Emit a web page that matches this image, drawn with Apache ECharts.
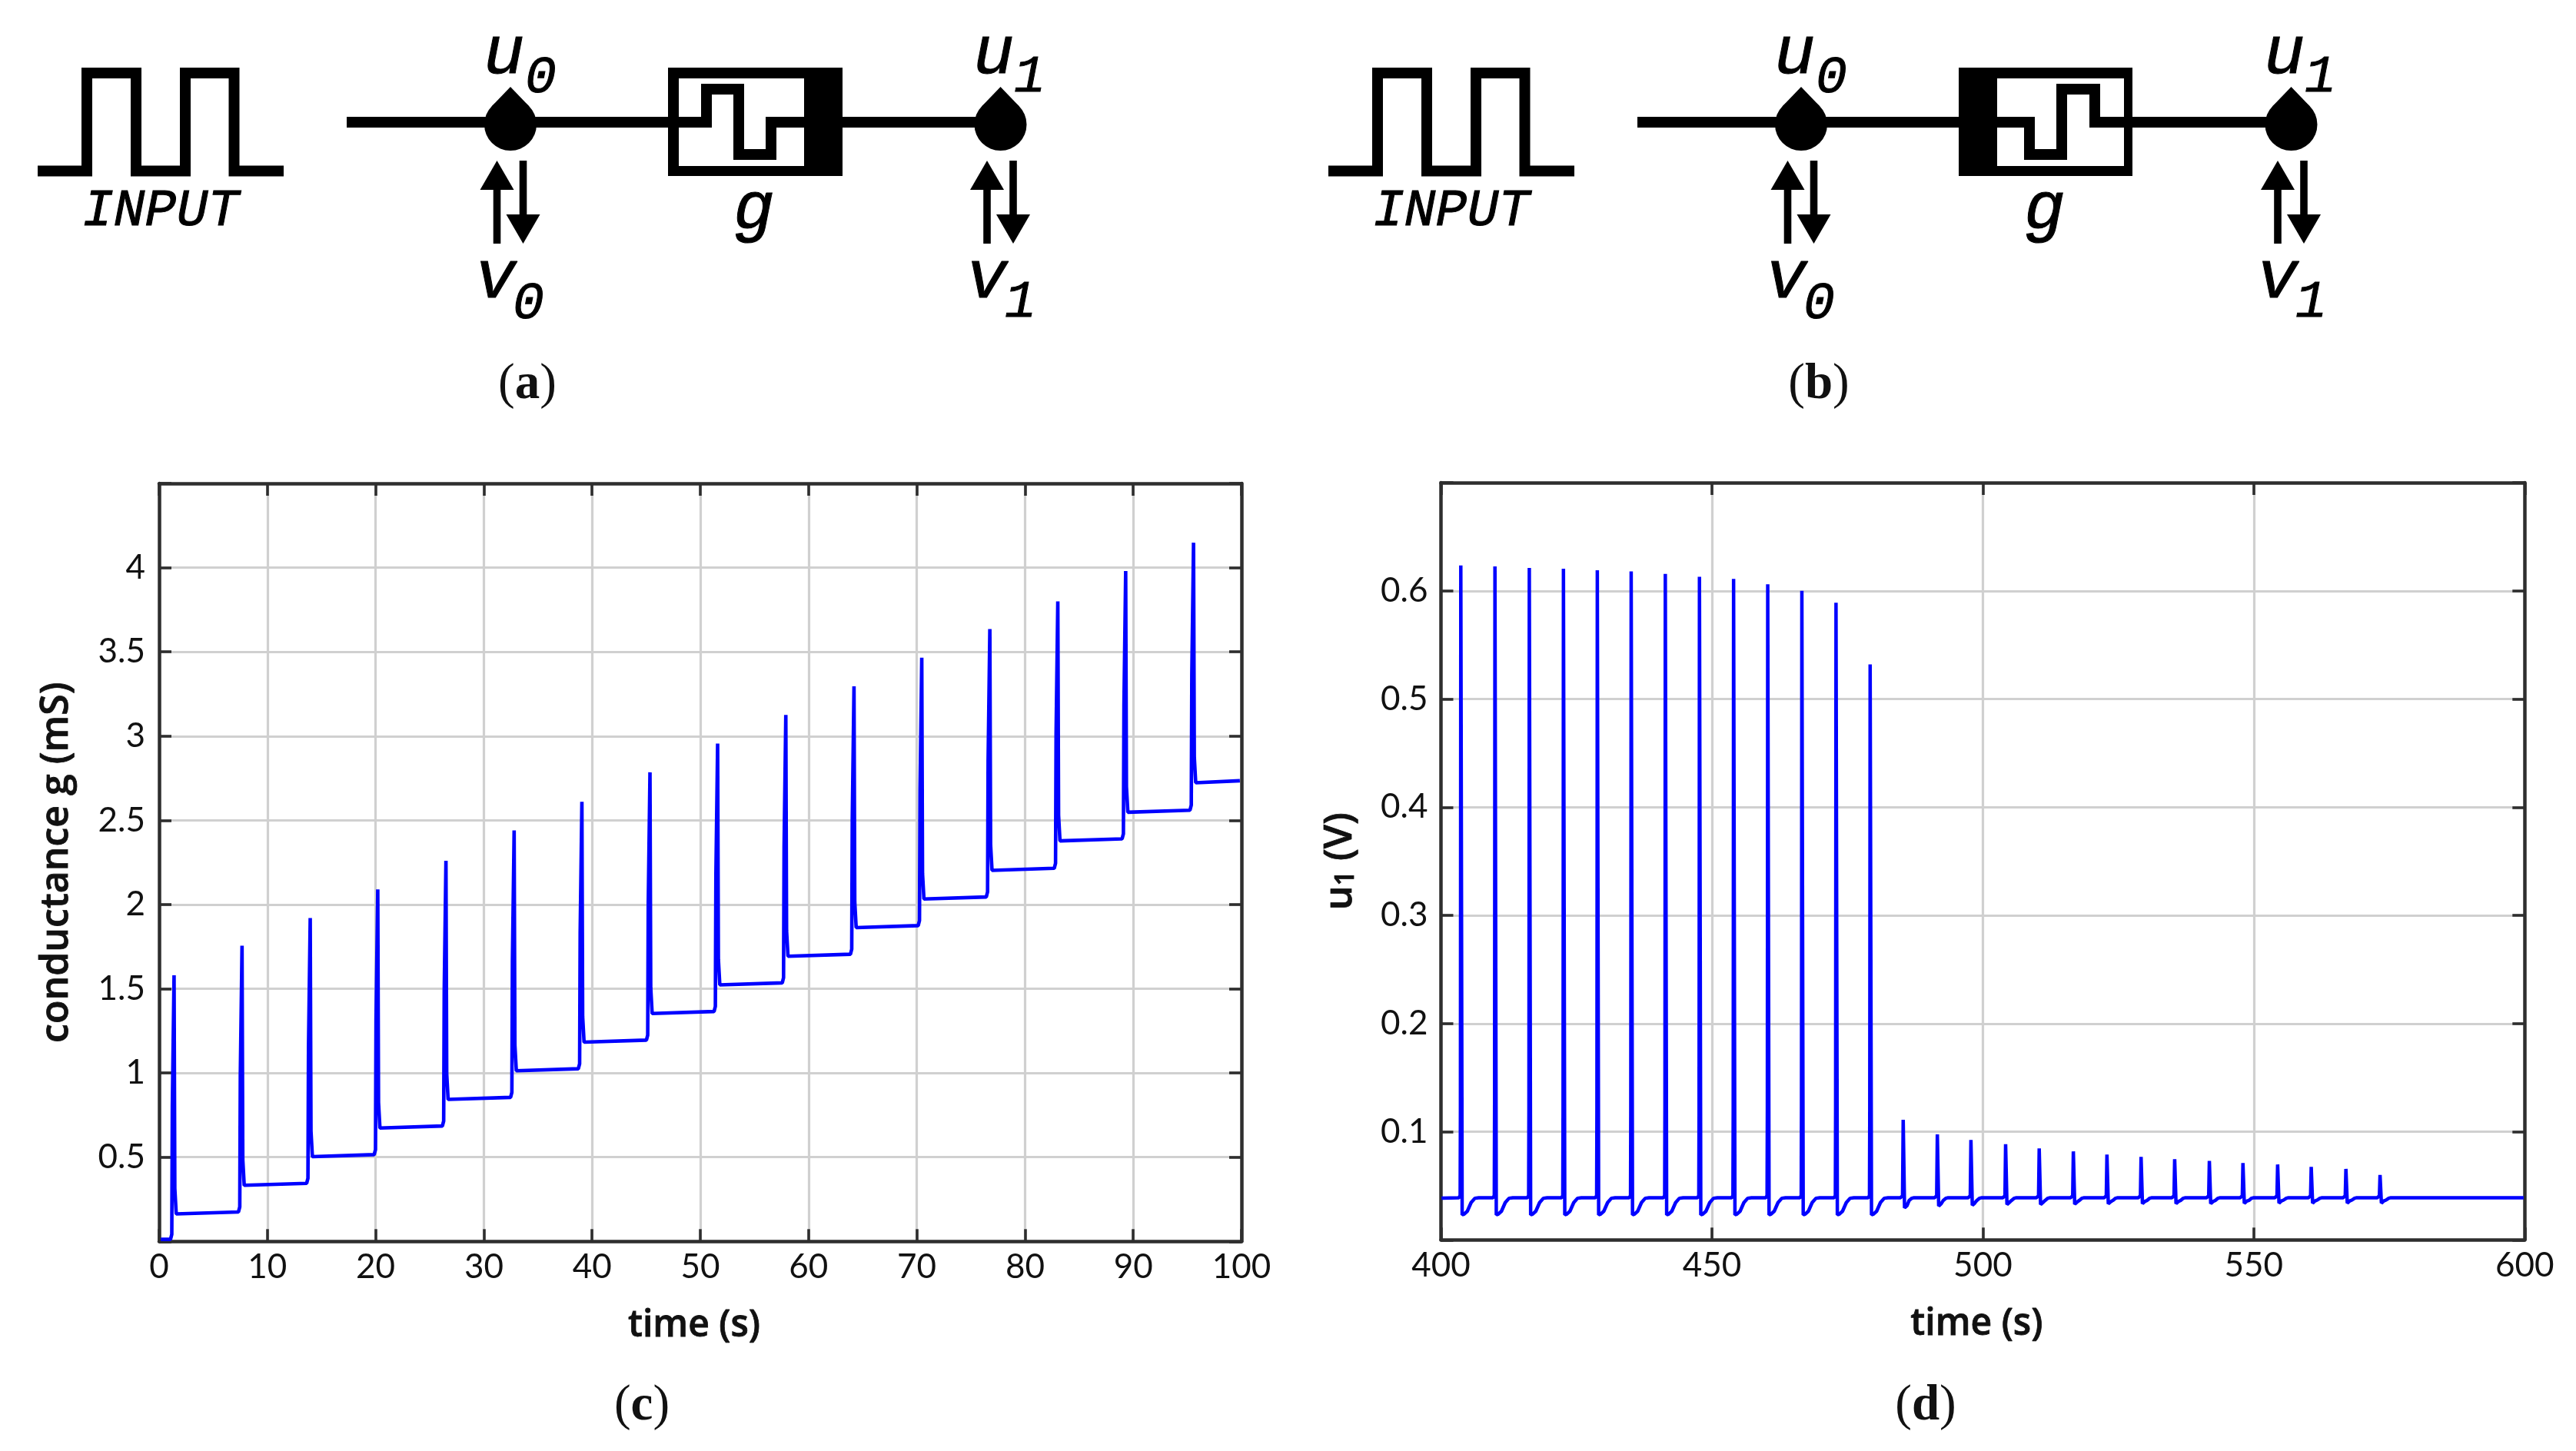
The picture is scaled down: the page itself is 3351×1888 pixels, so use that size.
<!DOCTYPE html>
<html><head><meta charset="utf-8">
<style>html,body{margin:0;padding:0;background:#fff}#c{width:3351px;height:1888px}</style>
<script src="https://cdn.jsdelivr.net/npm/echarts@6/dist/echarts.min.js"></script>
</head><body><div id="c"></div>
<script>
// (c) conductance g (mS) versus time (s): [time, value]
const conductanceEarly = [
[0.15,0.012],[1.05,0.012],[1.17,0.042],[1.22,0.80],[1.38,1.58],[1.45,0.315],[1.58,0.163],
[7.33,0.175],[7.45,0.205],[7.50,0.98],[7.66,1.756],[7.73,0.485],[7.86,0.333],
[13.63,0.345],[13.75,0.375],[13.80,1.15],[13.96,1.92],[14.03,0.655],[14.16,0.503],
[19.87,0.515],[19.99,0.545],[20.04,1.32],[20.20,2.09],[20.27,0.825],[20.40,0.673],
[26.17,0.685],[26.29,0.715],[26.34,1.49],[26.50,2.26],[26.57,0.995],[26.70,0.843],
[32.47,0.855],[32.59,0.885],[32.64,1.66],[32.80,2.44],[32.87,1.165],[33.00,1.013],
[38.73,1.025],[38.85,1.055],[38.90,1.83],[39.06,2.61],[39.13,1.335],[39.26,1.183],
[45.02,1.195],[45.14,1.225],[45.19,2.00],[45.35,2.785],[45.42,1.505],[45.55,1.353]
];
const conductanceLate = [
[51.27,1.365],[51.39,1.395],[51.44,2.17],[51.60,2.955],[51.67,1.675],[51.80,1.523],
[57.57,1.535],[57.69,1.565],[57.74,2.34],[57.90,3.125],[57.97,1.845],[58.10,1.693],
[63.87,1.705],[63.99,1.735],[64.04,2.51],[64.20,3.295],[64.27,2.015],[64.40,1.863],
[70.13,1.875],[70.25,1.905],[70.30,2.68],[70.46,3.465],[70.53,2.185],[70.66,2.033],
[76.42,2.045],[76.54,2.075],[76.59,2.85],[76.75,3.635],[76.82,2.355],[76.95,2.203],
[82.70,2.215],[82.82,2.245],[82.87,3.01],[83.03,3.80],[83.10,2.53],[83.23,2.378],
[88.97,2.39],[89.09,2.42],[89.14,3.18],[89.30,3.98],[89.37,2.70],[89.50,2.548],
[95.24,2.56],[95.36,2.59],[95.41,3.36],[95.57,4.148],[95.64,2.875],[95.77,2.723],
[99.85,2.735]
];
// (d) u1 (V) versus time (s): pulses that reach the high level
const voltageHigh = [
[400.1,0.0385],
[403.31,0.039],[403.54,0.041],[403.59,0.12],[403.66,0.6235],[403.91,0.0232],[404.26,0.0238],[404.86,0.0265],[405.56,0.0345],[406.26,0.0385],[406.96,0.039],
[409.61,0.039],[409.84,0.041],[409.89,0.12],[409.96,0.6225],[410.21,0.0232],[410.56,0.0238],[411.16,0.0265],[411.86,0.0345],[412.56,0.0385],[413.26,0.039],
[415.95,0.039],[416.18,0.041],[416.23,0.12],[416.30,0.6211],[416.55,0.0232],[416.90,0.0238],[417.50,0.0265],[418.20,0.0345],[418.90,0.0385],[419.60,0.039],
[422.25,0.039],[422.48,0.041],[422.53,0.12],[422.60,0.6204],[422.85,0.0232],[423.20,0.0238],[423.80,0.0265],[424.50,0.0345],[425.20,0.0385],[425.90,0.039],
[428.50,0.039],[428.73,0.041],[428.78,0.12],[428.85,0.619],[429.10,0.0232],[429.45,0.0238],[430.05,0.0265],[430.75,0.0345],[431.45,0.0385],[432.15,0.039],
[434.75,0.039],[434.98,0.041],[435.03,0.12],[435.10,0.618],[435.35,0.0232],[435.70,0.0238],[436.30,0.0265],[437.00,0.0345],[437.70,0.0385],[438.40,0.039],
[441.05,0.039],[441.28,0.041],[441.33,0.12],[441.40,0.6156],[441.65,0.0232],[442.00,0.0238],[442.60,0.0265],[443.30,0.0345],[444.00,0.0385],[444.70,0.039],
[447.35,0.039],[447.58,0.041],[447.63,0.12],[447.70,0.613],[447.95,0.0232],[448.30,0.0238],[448.90,0.0265],[449.60,0.0345],[450.30,0.0385],[451.00,0.039],
[453.65,0.039],[453.88,0.041],[453.93,0.12],[454.00,0.611],[454.25,0.0232],[454.60,0.0238],[455.20,0.0265],[455.90,0.0345],[456.60,0.0385],[457.30,0.039],
[459.95,0.039],[460.18,0.041],[460.23,0.12],[460.30,0.606],[460.55,0.0232],[460.90,0.0238],[461.50,0.0265],[462.20,0.0345],[462.90,0.0385],[463.60,0.039],
[466.25,0.039],[466.48,0.041],[466.53,0.12],[466.60,0.600],[466.85,0.0232],[467.20,0.0238],[467.80,0.0265],[468.50,0.0345],[469.20,0.0385],[469.90,0.039],
[472.55,0.039],[472.78,0.041],[472.83,0.12],[472.90,0.589],[473.15,0.0232],[473.50,0.0238],[474.10,0.0265],[474.80,0.0345],[475.50,0.0385],[476.20,0.039],
[478.85,0.039],[479.08,0.041],[479.13,0.12],[479.20,0.532],[479.45,0.0232],[479.80,0.0238],[480.40,0.0265],[481.10,0.0345],[481.80,0.0385],[482.50,0.039]
];
// (d) pulses that stay low
const voltageLow = [
[484.8,0.039],[485.18,0.0408],[485.3,0.111],[485.55,0.0296],[486.0,0.0316],[486.4,0.0365],[486.9,0.0385],[487.3,0.039],
[491.1,0.039],[491.48,0.0408],[491.6,0.0976],[491.85,0.0313],[492.3,0.0333],[492.7,0.0365],[493.2,0.0385],[493.6,0.039],
[497.3,0.039],[497.68,0.0408],[497.8,0.0924],[498.05,0.032],[498.5,0.034],[498.9,0.0365],[499.4,0.0385],[499.8,0.039],
[503.7,0.039],[504.08,0.0408],[504.2,0.0884],[504.45,0.0327],[504.9,0.0347],[505.3,0.0365],[505.8,0.0385],[506.2,0.039],
[509.9,0.039],[510.28,0.0408],[510.4,0.0846],[510.65,0.0327],[511.1,0.0347],[511.5,0.0365],[512.0,0.0385],[512.4,0.039],
[516.2,0.039],[516.58,0.0408],[516.7,0.0818],[516.95,0.033],[517.4,0.035],[517.8,0.0365],[518.3,0.0385],[518.7,0.039],
[522.4,0.039],[522.78,0.0408],[522.9,0.0789],[523.15,0.0333],[523.6,0.0353],[524.0,0.0365],[524.5,0.0385],[524.9,0.039],
[528.7,0.039],[529.08,0.0408],[529.2,0.0768],[529.45,0.0335],[529.9,0.0355],[530.3,0.0365],[530.8,0.0385],[531.2,0.039],
[534.9,0.039],[535.28,0.0408],[535.4,0.0746],[535.65,0.0335],[536.1,0.0355],[536.5,0.0365],[537.0,0.0385],[537.4,0.039],
[541.3,0.039],[541.68,0.0408],[541.8,0.073],[542.05,0.0335],[542.5,0.0355],[542.9,0.0365],[543.4,0.0385],[543.8,0.039],
[547.5,0.039],[547.88,0.0408],[548.0,0.0711],[548.25,0.0338],[548.7,0.0358],[549.1,0.0365],[549.6,0.0385],[550.0,0.039],
[553.9,0.039],[554.28,0.0408],[554.4,0.0697],[554.65,0.034],[555.1,0.036],[555.5,0.0368],[556.0,0.0385],[556.4,0.039],
[560.1,0.039],[560.48,0.0408],[560.6,0.0675],[560.85,0.034],[561.3,0.036],[561.7,0.0368],[562.2,0.0385],[562.6,0.039],
[566.5,0.039],[566.88,0.0408],[567.0,0.0656],[567.25,0.034],[567.7,0.036],[568.1,0.0368],[568.6,0.0385],[569.0,0.039],
[572.8,0.039],[573.18,0.0408],[573.3,0.060],[573.55,0.034],[574.0,0.036],[574.4,0.0368],[574.9,0.0385],[575.3,0.039]
];
const voltageTail = [
[579.0,0.039],[579.2,0.0402],[579.4,0.039],[585.5,0.039],[585.7,0.0402],[585.9,0.039],
[598.0,0.039],[598.2,0.0402],[598.4,0.039],[599.8,0.039]
];
// axis ranges and text
const conductanceTicks = {min:0,max:4.5,step:0.5};
const conductanceTime = {min:0,max:100,step:10};
const voltageTicks = {min:0,max:0.7,step:0.1};
const voltageTime = {min:400,max:600,step:50};
const captions = ['a','b','c','d'];
const timeName = 'time (s)';
const conductanceName = 'conductance g (mS)';

const spine = '#2e2e2e', gridC = '#d0d0d0', blue = '#0000ff';
const labelFont = 'Lato';
const nameFont = '"Open Sans"';

function hideEnds(r){
  return v => (Math.abs(v-r.min)<1e-9 || Math.abs(v-r.max)<1e-9) ? '' : String(+v.toFixed(2));
}
const common = g => ({
  gridIndex:g, type:'value',
  axisLine:{show:true,onZero:false,lineStyle:{color:spine,width:4.5}},
  axisTick:{show:true,inside:true,length:16,lineStyle:{color:spine,width:3.6}}
});
function xMain(g,r){return Object.assign(common(g),{
  min:r.min,max:r.max,interval:r.step,position:'bottom',
  splitLine:{show:true,lineStyle:{color:gridC,width:3.2}},
  axisLabel:{show:true,margin:12,color:'#111',fontFamily:labelFont,fontSize:44,hideOverlap:false,showMinLabel:true,showMaxLabel:true},
  name:timeName,nameLocation:'middle',nameGap:86,
  nameTextStyle:{color:'#111',fontFamily:nameFont,fontWeight:600,fontSize:48,padding:[0,16,0,0],textBorderColor:'#111',textBorderWidth:0.8}
});}
function xTop(g,r){return Object.assign(common(g),{
  min:r.min,max:r.max,interval:r.step,position:'top',splitLine:{show:false},axisLabel:{show:false}
});}
function yMain(g,r,name,gap,rich,margin,size){return Object.assign(common(g),{
  min:r.min,max:r.max,interval:r.step,position:'left',
  splitLine:{show:true,lineStyle:{color:gridC,width:3.2}},
  axisLabel:{show:true,margin:margin,color:'#111',fontFamily:labelFont,fontSize:44,formatter:hideEnds(r),showMinLabel:true,showMaxLabel:true},
  name:name,nameLocation:'middle',nameGap:gap,
  nameTextStyle:{color:'#111',fontFamily:nameFont,fontWeight:600,fontSize:size,rich:rich,textBorderColor:'#111',textBorderWidth:0.8}
});}
function yRight(g,r){return Object.assign(common(g),{
  min:r.min,max:r.max,interval:r.step,position:'right',splitLine:{show:false},axisLabel:{show:false}
});}

// ---- schematic drawings (a), (b) ----
const els = [];
const ink = '#000';
function poly(points,w){els.push({type:'polyline',silent:true,shape:{points},style:{stroke:ink,lineWidth:w,fill:null,lineJoin:'miter',lineCap:'butt'}});}
function fillPoly(points){els.push({type:'polygon',silent:true,shape:{points},style:{fill:ink,stroke:null}});}
function box(x,y,w,h,fill){els.push({type:'rect',silent:true,shape:{x,y,width:w,height:h},style:{fill,stroke:null}});}
function txt(text,x,y,size){
  els.push({type:'text',silent:true,style:{text,x,y:y+0.225*size,fill:ink,stroke:ink,lineWidth:1,font:'italic '+size+'px "Liberation Mono"',textAlign:'left',textVerticalAlign:'bottom'}});
}
function node(cx){
  els.push({type:'circle',silent:true,shape:{cx,cy:162,r:34},style:{fill:ink,stroke:null}});
  fillPoly([[cx,113],[cx-24.5,138.4],[cx+24.5,138.4]]);
  const ux = cx-17.5, dxx = cx+16.5;
  box(ux-4.8,247,9.6,70,ink); fillPoly([[ux-22,247],[ux,209],[ux+22,247]]);
  box(dxx-4.8,209,9.6,70,ink); fillPoly([[dxx-22,279],[dxx,317],[dxx+22,279]]);
}
function schematic(dx,leftBar){
  poly([[49+dx,222.5],[113+dx,222.5],[113+dx,95],[177+dx,95],[177+dx,222.5],[241+dx,222.5],[241+dx,95],[304.5+dx,95],[304.5+dx,222.5],[369+dx,222.5]],14);
  txt('INPUT',107+dx,294,68);
  node(664+dx); node(1301.5+dx);
  poly([[451+dx,159],[869+dx,159]],14);
  if(!leftBar){
    poly([[1096+dx,159],[1301+dx,159]],14);
    box(869+dx,88,227,141,ink);
    box(883+dx,102,163,114,'#fff');
    poly([[883+dx,159],[919+dx,159],[919+dx,116],[961+dx,116],[961+dx,201],[1003+dx,201],[1003+dx,159],[1046+dx,159]],14);
  } else {
    poly([[1095+dx,159],[1301+dx,159]],14);
    box(869+dx,88,226,141,ink);
    box(919+dx,102,165,114,'#fff');
    poly([[919+dx,159],[961+dx,159],[961+dx,201],[1003+dx,201],[1003+dx,116],[1046+dx,116],[1046+dx,159],[1084+dx,159]],14);
  }
  txt('g',954+dx,298,89);
  txt('u',629+dx,96,89); txt('0',683+dx,121,68);
  txt('v',618+dx,388,89); txt('0',667+dx,415,68);
  txt('u',1266+dx,96,89); txt('1',1319+dx,120,68);
  txt('v',1257+dx,388,89); txt('1',1307+dx,413,68);
}
schematic(0,false);
schematic(1679,true);

// ---- captions ----
const captionPos = [[686,501],[2366,501],[835,1830],[2505,1830]];
captions.forEach((c,i)=>{
  els.push({type:'text',silent:true,style:{
    text:'{p|(}{l|'+c+'}{p|)}',x:captionPos[i][0],y:captionPos[i][1],
    textAlign:'center',textVerticalAlign:'middle',
    rich:{p:{font:'65px "Liberation Serif"',fill:'#111'},l:{font:'bold 65px "Liberation Serif"',fill:'#111'}}
  }});
});

const chart = echarts.init(document.getElementById('c'),null,{renderer:'canvas'});
chart.setOption({
  animation:false,
  backgroundColor:'#fff',
  grid:[
    {left:207,top:629,width:1408,height:986.3,containLabel:false},
    {left:1874.5,top:628,width:1409.8,height:985.3,containLabel:false}
  ],
  xAxis:[xMain(0,conductanceTime),xTop(0,conductanceTime),xMain(1,voltageTime),xTop(1,voltageTime)],
  yAxis:[
    yMain(0,conductanceTicks,conductanceName,108,undefined,18,50),
    yRight(0,conductanceTicks),
    yMain(1,voltageTicks,'{m|u}{s|1}{m| (V)}',106,{
      m:{fontFamily:nameFont,fontWeight:600,fontSize:50,color:'#111',textBorderColor:'#111',textBorderWidth:0.8},
      s:{fontFamily:nameFont,fontWeight:600,fontSize:34,color:'#111',verticalAlign:'bottom',padding:[16,0,0,0]}
    },17,50),
    yRight(1,voltageTicks)
  ],
  series:[
    {type:'line',xAxisIndex:0,yAxisIndex:0,data:conductanceEarly.concat(conductanceLate),showSymbol:false,symbol:'none',
     lineStyle:{color:blue,width:4.6,join:'bevel'},clip:true,z:3,silent:true},
    {type:'line',xAxisIndex:2,yAxisIndex:2,data:voltageHigh.concat(voltageLow,voltageTail),showSymbol:false,symbol:'none',
     lineStyle:{color:blue,width:4.5,join:'bevel'},clip:true,z:3,silent:true}
  ],
  graphic:{elements:els}
});
</script></body></html>
